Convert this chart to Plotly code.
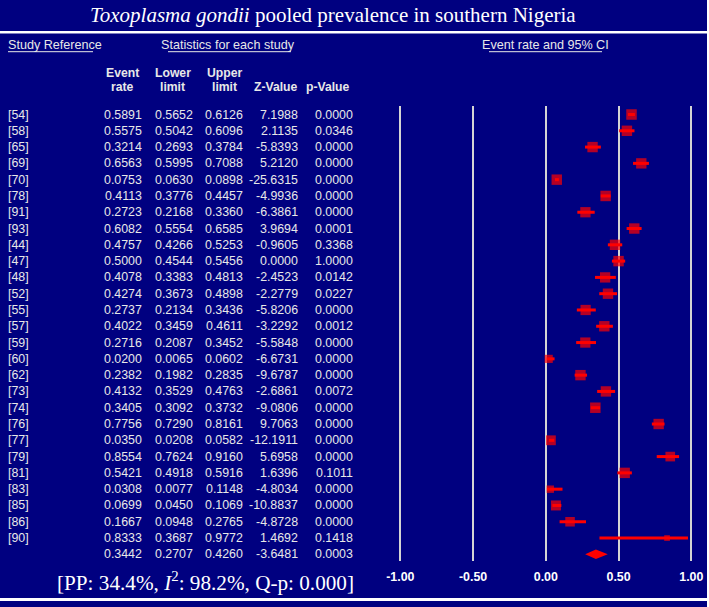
import numpy as np
import plotly.graph_objects as go

# ---------------- data ----------------
refs = ["[54]", "[58]", "[65]", "[69]", "[70]", "[78]", "[91]", "[93]", "[44]", "[47]",
        "[48]", "[52]", "[55]", "[57]", "[59]", "[60]", "[62]", "[73]", "[74]", "[76]",
        "[77]", "[79]", "[81]", "[83]", "[85]", "[86]", "[90]"]
event_rate = [0.5891, 0.5575, 0.3214, 0.6563, 0.0753, 0.4113, 0.2723, 0.6082, 0.4757, 0.5000,
              0.4078, 0.4274, 0.2737, 0.4022, 0.2716, 0.0200, 0.2382, 0.4132, 0.3405, 0.7756,
              0.0350, 0.8554, 0.5421, 0.0308, 0.0699, 0.1667, 0.8333]
lower_limit = [0.5652, 0.5042, 0.2693, 0.5995, 0.0630, 0.3776, 0.2168, 0.5554, 0.4266, 0.4544,
               0.3383, 0.3673, 0.2134, 0.3459, 0.2087, 0.0065, 0.1982, 0.3529, 0.3092, 0.7290,
               0.0208, 0.7624, 0.4918, 0.0077, 0.0450, 0.0948, 0.3687]
upper_limit = [0.6126, 0.6096, 0.3784, 0.7088, 0.0898, 0.4457, 0.3360, 0.6585, 0.5253, 0.5456,
               0.4813, 0.4898, 0.3436, 0.4611, 0.3452, 0.0602, 0.2835, 0.4763, 0.3732, 0.8161,
               0.0582, 0.9160, 0.5916, 0.1148, 0.1069, 0.2765, 0.9772]
z_value = [7.1988, 2.1135, -5.8393, 5.2120, -25.6315, -4.9936, -6.3861, 3.9694, -0.9605, 0.0000,
           -2.4523, -2.2779, -5.8206, -3.2292, -5.5848, -6.6731, -9.6787, -2.6861, -9.0806, 9.7063,
           -12.1911, 5.6958, 1.6396, -4.8034, -10.8837, -4.8728, 1.4692]
p_value = [0.0000, 0.0346, 0.0000, 0.0000, 0.0000, 0.0000, 0.0000, 0.0001, 0.3368, 1.0000,
           0.0142, 0.0227, 0.0000, 0.0012, 0.0000, 0.0000, 0.0000, 0.0072, 0.0000, 0.0000,
           0.0000, 0.0000, 0.1011, 0.0000, 0.0000, 0.0000, 0.1418]

pooled_rate = 0.3442
pooled_lower = 0.2707
pooled_upper = 0.4260
pooled_z = -3.6481
pooled_p = 0.0003
pooled_pct = 34.4
i_squared = 98.2
q_p = 0.000
tau_squared = 0.5   # between-study variance (logit scale)

tick_vals = [-1.0, -0.5, 0.0, 0.5, 1.0]
tick_text = ["-1.00", "-0.50", "0.00", "0.50", "1.00"]

# ---------------- styling / geometry ----------------
W, H = 709, 607
NAVY = "#000080"
RED = "#FF0000"
TXT = "#E8E8E8"
SANS = "Liberation Sans, Arial, sans-serif"
SERIF = "Liberation Serif, Times New Roman, serif"

n = len(refs)
rows = list(range(n))
sum_row = n

# random-effects weights on logit scale -> box sizes
p = np.array(event_rate); lo = np.array(lower_limit); up = np.array(upper_limit)
logit = lambda v: np.log(v / (1 - v))
vi = ((logit(up) - logit(lo)) / 3.92) ** 2
wr = 1 / (vi + tau_squared)
sizes = 10.5 * np.sqrt(wr / wr.max())

# pixel geometry
row0_px, row_step = 114.5, 16.29
plot_top_px, plot_bot_px = 106, 561
x_zero_px, x_unit_px = 545.8, 145.5
xl_px, xr_px = 380, 705

def py(px):  # paper y from pixel
    return 1 - px / H

def pxx(px):
    return px / W

y_range = [(plot_bot_px - row0_px) / row_step, (plot_top_px - row0_px) / row_step]
x_range = [(xl_px - x_zero_px) / x_unit_px, (xr_px - x_zero_px) / x_unit_px]

fig = go.Figure()

# CI + boxes
fig.add_trace(go.Scatter(
    x=event_rate, y=rows, mode="markers",
    marker=dict(symbol="square", size=sizes, color=RED, line=dict(width=0)),
    error_x=dict(type="data", symmetric=False,
                 array=(up - p).tolist(), arrayminus=(p - lo).tolist(),
                 color=RED, thickness=3, width=0),
    hoverinfo="skip", showlegend=False, cliponaxis=False))

# summary diamond
h = 0.29
fig.add_trace(go.Scatter(
    x=[pooled_lower, pooled_rate, pooled_upper, pooled_rate, pooled_lower],
    y=[sum_row, sum_row - h, sum_row, sum_row + h, sum_row],
    mode="lines", fill="toself", fillcolor=RED, line=dict(width=0, color=RED),
    hoverinfo="skip", showlegend=False))

ann = []
def add_text(text, x_px, y, yref="y", xanchor="right", size=12.4, color=TXT,
             family=SANS, weight="normal", yanchor="middle"):
    ann.append(dict(text=text, x=pxx(x_px), xref="paper", y=y, yref=yref,
                    xanchor=xanchor, yanchor=yanchor, showarrow=False,
                    borderpad=0, borderwidth=0,
                    font=dict(family=family, size=size, color=color, weight=weight)))

col_x = [141.7, 193.3, 243.3, 298.3, 353.3]
for i in rows:
    add_text(refs[i], 8, i, xanchor="left")
    vals = [event_rate[i], lower_limit[i], upper_limit[i], z_value[i], p_value[i]]
    for cx, v in zip(col_x, vals):
        add_text(f"{v:.4f}", cx, i)
for cx, v in zip(col_x, [pooled_rate, pooled_lower, pooled_upper, pooled_z, pooled_p]):
    add_text(f"{v:.4f}", cx, sum_row)

# column headers (bold, two lines)
hdr1 = ["Event", "Lower", "Upper"]
hdr1_cx = [122, 172.5, 224]
hdr2 = ["rate", "limit", "limit", "Z-Value", "p-Value"]
hdr2_cx = [122, 172.5, 224, 276, 328]
for cx, a in zip(hdr1_cx, hdr1):
    add_text(a, cx, py(72.7), yref="paper", xanchor="center", size=12.2, weight="bold")
for cx, b in zip(hdr2_cx, hdr2):
    add_text(b, cx, py(87.3), yref="paper", xanchor="center", size=12.2, weight="bold")

# section headers
add_text("Study Reference", 8, py(45), yref="paper", xanchor="left", size=12.6)
add_text("Statistics for each study", 161, py(45), yref="paper", xanchor="left", size=12.6)
add_text("Event rate and 95% CI", 482, py(45), yref="paper", xanchor="left", size=12.6)

# title
add_text("<i>Toxoplasma gondii</i> pooled prevalence in southern Nigeria", 333, py(15),
         yref="paper", xanchor="center", size=21, color="#FFFFFF", family=SERIF)

# summary statistics line
add_text(f"[PP: {pooled_pct:.1f}%, <i>I</i><sup>2</sup>: {i_squared:.1f}%, Q-p: {q_p:.3f}]",
         353.5, py(581.5), yref="paper", xanchor="right", size=21.2, color="#FFFFFF", family=SERIF)

shapes = [
    dict(type="rect", xref="paper", yref="paper", x0=0, x1=pxx(707), y0=py(0), y1=py(31),
         fillcolor=NAVY, line=dict(width=0), layer="below"),
    dict(type="rect", xref="paper", yref="paper", x0=0, x1=pxx(707), y0=py(33.5), y1=py(598),
         fillcolor=NAVY, line=dict(width=0), layer="below"),
    dict(type="rect", xref="paper", yref="paper", x0=0, x1=pxx(707), y0=py(601), y1=py(607),
         fillcolor=NAVY, line=dict(width=0), layer="below"),
]
for x0, x1 in [(8, 93), (168, 291), (489, 602)]:
    shapes.append(dict(type="line", xref="paper", yref="paper", x0=pxx(x0), x1=pxx(x1),
                       y0=py(51.7), y1=py(51.7), line=dict(color=TXT, width=1)))

fig.update_layout(
    width=W, height=H, margin=dict(l=0, r=0, t=0, b=0),
    paper_bgcolor="#FFFFFF", plot_bgcolor="rgba(0,0,0,0)",
    showlegend=False, annotations=ann, shapes=shapes,
    xaxis=dict(domain=[pxx(xl_px), pxx(xr_px)], range=x_range,
               tickvals=tick_vals, ticktext=tick_text,
               showgrid=True, gridcolor="#D4D4D4", gridwidth=1.5,
               zeroline=False, showline=False,
               ticks="outside", ticklen=4, tickcolor="rgba(0,0,0,0)",
               tickfont=dict(family=SANS, size=12.4, color="#FFFFFF", weight="bold"),
               fixedrange=True),
    yaxis=dict(domain=[py(plot_bot_px), py(plot_top_px)], range=y_range,
               showgrid=False, zeroline=False, showline=False, showticklabels=False,
               fixedrange=True),
)

fig.write_html("out.html", config={"displayModeBar": False},
               post_script="document.body.style.margin='0';document.body.style.padding='0';"
                           "document.body.style.overflow='hidden';")
